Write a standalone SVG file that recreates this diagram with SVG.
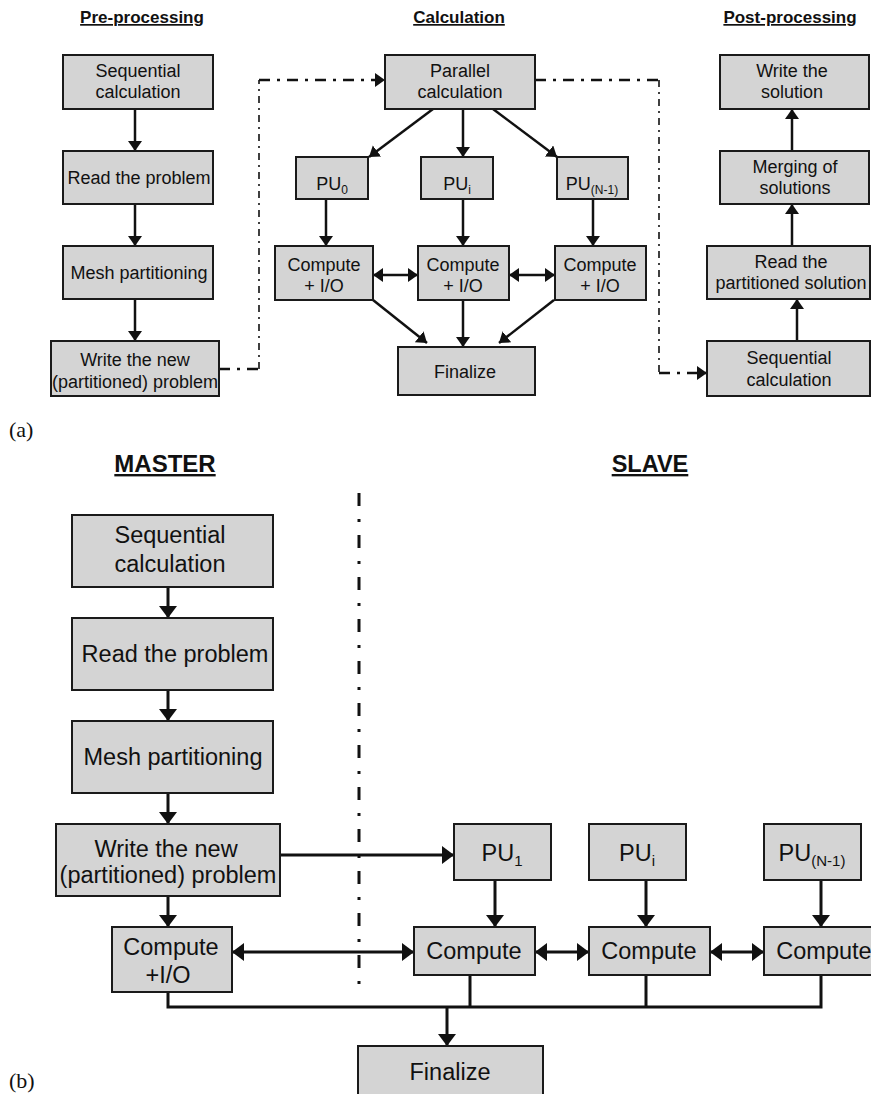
<svg xmlns="http://www.w3.org/2000/svg" width="871" height="1094" viewBox="0 0 871 1094">
<style>
  .bx{fill:#d4d4d4;stroke:#1a1a1a;stroke-width:2}
  .t{font-family:"Liberation Sans",Arial,sans-serif;fill:#111;text-anchor:middle}
  .ts{font-size:18px}
  .tb{font-size:23.5px}
  .ttl{font-family:"Liberation Sans",Arial,sans-serif;font-weight:bold;fill:#111;text-anchor:middle;text-decoration:underline}
  .lbl{font-family:"Liberation Serif","Times New Roman",serif;font-size:22px;fill:#111}
  .c{stroke:#111;fill:none;stroke-width:2.5}
  .cb{stroke:#111;fill:none;stroke-width:3}
  .dh{stroke:#111;fill:none;stroke-width:2.5;stroke-dasharray:11 7 3 7}
  .dv{stroke:#111;fill:none;stroke-width:1.6;stroke-dasharray:7 5 2 5}
  .dbig{stroke:#111;fill:none;stroke-width:3;stroke-dasharray:13 13 3 13}
</style>
<defs>
  <marker id="ah" markerUnits="userSpaceOnUse" markerWidth="12" markerHeight="16" refX="10" refY="7" orient="auto-start-reverse" viewBox="0 0 12 16">
    <path d="M0,0 L10,7 L0,14 z" fill="#111"/>
  </marker>
  <marker id="ahB" markerUnits="userSpaceOnUse" markerWidth="14" markerHeight="20" refX="12" refY="9" orient="auto-start-reverse" viewBox="0 0 14 20">
    <path d="M0,0 L12,9 L0,18 z" fill="#111"/>
  </marker>
</defs>

<!-- titles and labels -->
<text class="ttl" x="142" y="23" font-size="17">Pre-processing</text>
<text class="ttl" x="459" y="23" font-size="17">Calculation</text>
<text class="ttl" x="790" y="23" font-size="17">Post-processing</text>
<text class="lbl" x="9" y="437">(a)</text>
<text class="ttl" x="165" y="472" font-size="24">MASTER</text>
<text class="ttl" x="650" y="472" font-size="23.5">SLAVE</text>
<text class="lbl" x="9" y="1088">(b)</text>

<!-- connectors -->
<g id="connectors">
  <!-- pre-processing -->
  <line class="c" x1="135" y1="109" x2="135" y2="151" marker-end="url(#ah)"/>
  <line class="c" x1="135" y1="204" x2="135" y2="246" marker-end="url(#ah)"/>
  <line class="c" x1="135" y1="299" x2="135" y2="341" marker-end="url(#ah)"/>
  <!-- dash-dot links -->
  <line class="dh" x1="219" y1="369" x2="259" y2="369"/>
  <line class="dv" x1="259" y1="369" x2="259" y2="80"/>
  <line class="dh" x1="259" y1="80" x2="385" y2="80" marker-end="url(#ah)"/>
  <line class="dh" x1="535" y1="80" x2="659" y2="80"/>
  <line class="dv" x1="659" y1="80" x2="659" y2="373"/>
  <line class="dh" x1="659" y1="373" x2="707" y2="373" stroke-dasharray="3 7 3 7 14" marker-end="url(#ah)"/>
  <!-- calculation -->
  <line class="c" x1="433" y1="109" x2="369" y2="157" marker-end="url(#ah)"/>
  <line class="c" x1="463" y1="109" x2="463" y2="157" marker-end="url(#ah)"/>
  <line class="c" x1="493" y1="109" x2="557" y2="157" marker-end="url(#ah)"/>
  <line class="c" x1="326" y1="199" x2="326" y2="246" marker-end="url(#ah)"/>
  <line class="c" x1="463" y1="199" x2="463" y2="246" marker-end="url(#ah)"/>
  <line class="c" x1="593" y1="199" x2="593" y2="246" marker-end="url(#ah)"/>
  <line class="c" x1="373" y1="275" x2="418" y2="275" marker-start="url(#ah)" marker-end="url(#ah)"/>
  <line class="c" x1="509" y1="275" x2="555" y2="275" marker-start="url(#ah)" marker-end="url(#ah)"/>
  <line class="c" x1="373" y1="300" x2="427" y2="343" marker-end="url(#ah)"/>
  <line class="c" x1="463" y1="300" x2="463" y2="347" marker-end="url(#ah)"/>
  <line class="c" x1="554" y1="300" x2="499" y2="343" marker-end="url(#ah)"/>
  <!-- post-processing -->
  <line class="c" x1="792" y1="151" x2="792" y2="109" marker-end="url(#ah)"/>
  <line class="c" x1="792" y1="246" x2="792" y2="204" marker-end="url(#ah)"/>
  <line class="c" x1="797" y1="341" x2="797" y2="299" marker-end="url(#ah)"/>

  <!-- (b) master -->
  <line class="cb" x1="168" y1="587" x2="168" y2="618" marker-end="url(#ahB)"/>
  <line class="cb" x1="168" y1="690" x2="168" y2="721" marker-end="url(#ahB)"/>
  <line class="cb" x1="168" y1="793" x2="168" y2="824" marker-end="url(#ahB)"/>
  <line class="cb" x1="168" y1="896" x2="168" y2="927" marker-end="url(#ahB)"/>
  <line class="dbig" x1="359" y1="493" x2="359" y2="988"/>
  <line class="cb" x1="280" y1="855" x2="454" y2="855" marker-end="url(#ahB)"/>
  <line class="cb" x1="232" y1="952" x2="414" y2="952" marker-start="url(#ahB)" marker-end="url(#ahB)"/>
  <!-- slave -->
  <line class="cb" x1="495" y1="880" x2="495" y2="927" marker-end="url(#ahB)"/>
  <line class="cb" x1="646" y1="880" x2="646" y2="927" marker-end="url(#ahB)"/>
  <line class="cb" x1="821" y1="880" x2="821" y2="927" marker-end="url(#ahB)"/>
  <line class="cb" x1="535" y1="952" x2="589" y2="952" marker-start="url(#ahB)" marker-end="url(#ahB)"/>
  <line class="cb" x1="710" y1="952" x2="764" y2="952" marker-start="url(#ahB)" marker-end="url(#ahB)"/>
  <polyline class="cb" points="168,992 168,1007 821,1007 821,975"/>
  <line class="cb" x1="470" y1="975" x2="470" y2="1007"/>
  <line class="cb" x1="646" y1="975" x2="646" y2="1007"/>
  <line class="cb" x1="447" y1="1007" x2="447" y2="1046" marker-end="url(#ahB)"/>
</g>

<!-- (a) pre-processing nodes -->
<g id="pre-seq"><rect class="bx" x="63" y="55" width="150" height="54"/><text class="t ts" x="138" y="77">Sequential</text><text class="t ts" x="138" y="98">calculation</text></g>
<g id="pre-read"><rect class="bx" x="63" y="151" width="150" height="53"/><text class="t ts" x="139" y="184">Read the problem</text></g>
<g id="pre-mesh"><rect class="bx" x="63" y="246" width="150" height="53"/><text class="t ts" x="139" y="279">Mesh partitioning</text></g>
<g id="pre-write"><rect class="bx" x="51" y="341" width="168" height="55"/><text class="t ts" x="135" y="366">Write the new</text><text class="t ts" x="135" y="388">(partitioned) problem</text></g>

<!-- (a) calculation nodes -->
<g id="calc-par"><rect class="bx" x="385" y="55" width="150" height="54"/><text class="t ts" x="460" y="77">Parallel</text><text class="t ts" x="460" y="98">calculation</text></g>
<g id="calc-pu0"><rect class="bx" x="296" y="157" width="72" height="42"/><text class="t ts" x="332" y="190">PU<tspan font-size="12" dy="4">0</tspan></text></g>
<g id="calc-pui"><rect class="bx" x="421" y="157" width="72" height="42"/><text class="t ts" x="457" y="190">PU<tspan font-size="12" dy="4">i</tspan></text></g>
<g id="calc-pun"><rect class="bx" x="557" y="157" width="71" height="42"/><text class="t ts" x="592" y="190">PU<tspan font-size="12" dy="4">(N-1)</tspan></text></g>
<g id="calc-comp0"><rect class="bx" x="275" y="246" width="98" height="54"/><text class="t ts" x="324" y="271">Compute</text><text class="t ts" x="324" y="292">+ I/O</text></g>
<g id="calc-compi"><rect class="bx" x="418" y="246" width="91" height="54"/><text class="t ts" x="463" y="271">Compute</text><text class="t ts" x="463" y="292">+ I/O</text></g>
<g id="calc-compn"><rect class="bx" x="555" y="246" width="91" height="54"/><text class="t ts" x="600" y="271">Compute</text><text class="t ts" x="600" y="292">+ I/O</text></g>
<g id="calc-fin"><rect class="bx" x="398" y="347" width="137" height="48"/><text class="t ts" x="465" y="378">Finalize</text></g>

<!-- (a) post-processing nodes -->
<g id="post-write"><rect class="bx" x="720" y="55" width="149" height="54"/><text class="t ts" x="792" y="77">Write the</text><text class="t ts" x="792" y="98">solution</text></g>
<g id="post-merge"><rect class="bx" x="720" y="151" width="149" height="53"/><text class="t ts" x="795" y="173">Merging of</text><text class="t ts" x="795" y="194">solutions</text></g>
<g id="post-read"><rect class="bx" x="707" y="246" width="163" height="53"/><text class="t ts" x="791" y="268">Read the</text><text class="t ts" x="791" y="289">partitioned solution</text></g>
<g id="post-seq"><rect class="bx" x="707" y="341" width="163" height="55"/><text class="t ts" x="789" y="364">Sequential</text><text class="t ts" x="789" y="386">calculation</text></g>

<!-- (b) master nodes -->
<g id="m-seq"><rect class="bx" x="72" y="515" width="201" height="72"/><text class="t tb" x="170" y="543">Sequential</text><text class="t tb" x="170" y="572">calculation</text></g>
<g id="m-read"><rect class="bx" x="72" y="618" width="201" height="72"/><text class="t tb" x="175" y="662">Read the problem</text></g>
<g id="m-mesh"><rect class="bx" x="72" y="721" width="201" height="72"/><text class="t tb" x="173" y="765">Mesh partitioning</text></g>
<g id="m-write"><rect class="bx" x="56" y="824" width="224" height="72"/><text class="t tb" x="166" y="857">Write the new</text><text class="t tb" x="168" y="883">(partitioned) problem</text></g>
<g id="m-comp"><rect class="bx" x="112" y="927" width="120" height="65"/><text class="t tb" x="171" y="955">Compute</text><text class="t tb" x="168" y="983">+I/O</text></g>

<!-- (b) slave nodes -->
<g id="s-pu1"><rect class="bx" x="454" y="824" width="97" height="56"/><text class="t tb" x="502" y="861">PU<tspan font-size="15" dy="5">1</tspan></text></g>
<g id="s-pui"><rect class="bx" x="589" y="824" width="97" height="56"/><text class="t tb" x="637" y="861">PU<tspan font-size="15" dy="5">i</tspan></text></g>
<g id="s-pun"><rect class="bx" x="764" y="824" width="97" height="56"/><text class="t tb" x="812" y="861">PU<tspan font-size="15" dy="5">(N-1)</tspan></text></g>
<g id="s-comp1"><rect class="bx" x="414" y="927" width="121" height="48"/><text class="t tb" x="474" y="959">Compute</text></g>
<g id="s-compi"><rect class="bx" x="589" y="927" width="121" height="48"/><text class="t tb" x="649" y="959">Compute</text></g>
<g id="s-compn"><rect class="bx" x="764" y="927" width="121" height="48"/><text class="t tb" x="824" y="959">Compute</text></g>
<g id="s-fin"><rect class="bx" x="358" y="1046" width="185" height="60"/><text class="t tb" x="450" y="1080">Finalize</text></g>
</svg>
